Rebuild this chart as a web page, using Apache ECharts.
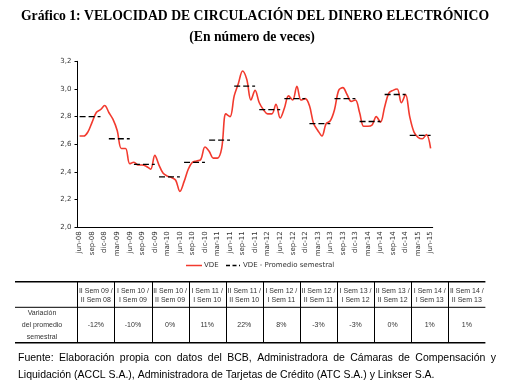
<!DOCTYPE html>
<html>
<head>
<meta charset="utf-8">
<script src="https://cdn.jsdelivr.net/npm/echarts@6/dist/echarts.min.js"></script>
<style>
html,body{margin:0;padding:0;background:#fff;}
#chart{width:508px;height:392px;}
</style>
</head>
<body>
<div id="chart"></div>
<script>
// ---- Data ----
const monthNames = ['ene','feb','mar','abr','may','jun','jul','ago','sep','oct','nov','dic'];
const startYear = 2008, startMonth = 5, nMonths = 85; // jun-08 .. jun-15
const vde = [
  2.66,2.66,2.69,2.76,2.83,2.85,2.88,2.83,2.78,2.70,
  2.57,2.57,2.46,2.47,2.45,2.45,2.44,2.42,2.52,2.45,
  2.39,2.37,2.36,2.34,2.26,2.33,2.42,2.47,2.48,2.49,
  2.58,2.55,2.50,2.50,2.57,2.82,2.80,2.95,3.04,3.13,
  3.07,2.92,2.99,2.90,2.85,2.82,2.82,2.89,2.79,2.86,
  2.95,2.92,3.02,2.92,2.93,2.88,2.75,2.70,2.66,2.75,
  2.77,2.85,2.99,3.01,2.96,2.91,2.92,2.83,2.73,2.73,
  2.74,2.80,2.76,2.87,2.97,2.99,3.00,2.90,2.96,2.80,
  2.69,2.65,2.64,2.67,2.57
];
const semAvg = [2.80,2.64,2.455,2.365,2.47,2.63,3.02,2.85,2.93,2.75,2.93,2.765,2.96,2.665];
const semStart = [0,7,13,19,25,31,37,43,49,55,61,67,73,79];
const semLen = 6;
const yTicks = [2.0,2.2,2.4,2.6,2.8,3.0,3.2];
const tableHead1 = ['II Sem 09 /','I Sem 10 /','II Sem 10 /','I Sem 11 /','II Sem 11 /','I Sem 12 /','II Sem 12 /','I Sem 13 /','II Sem 13 /','I Sem 14 /','II Sem 14 /'];
const tableHead2 = ['II Sem 08','I Sem 09','II Sem 09','I Sem 10','II Sem 10','I Sem 11','II Sem 11','I Sem 12','II Sem 12','I Sem 13','II Sem 13'];
const variation = ['-12%','-10%','0%','11%','22%','8%','-3%','-3%','0%','1%','1%'];
const rowLabel = ['Variación','del promedio','semestral'];
const legendNames = ['VDE', 'VDE - Promedio semestral'];
const titleText = 'Gráfico 1: VELOCIDAD DE CIRCULACIÓN DEL DINERO ELECTRÓNICO';
const subTitleText = '(En número de veces)';
const source1 = 'Fuente: Elaboración propia con datos del BCB, Administradora de Cámaras de Compensación y';
const source2 = 'Liquidación (ACCL S.A.), Administradora de Tarjetas de Crédito (ATC S.A.) y Linkser S.A.';

// ---- Build ----
const RED = '#f23a2e';
const categories = [];
for (let i = 0; i < nMonths; i++) {
  const m = (startMonth + i) % 12;
  const y = startYear + Math.floor((startMonth + i) / 12);
  categories.push(monthNames[m] + '-' + String(y % 100).padStart(2, '0'));
}
const series = [{
  name: legendNames[0], type: 'line', data: vde, smooth: 0.35, symbol: 'none',
  lineStyle: {color: RED, width: 1.6}, itemStyle: {color: RED}, z: 3
}];
semAvg.forEach((v, k) => {
  const d = new Array(nMonths).fill(null);
  for (let j = 0; j < semLen; j++) d[semStart[k] + j] = v;
  series.push({
    name: legendNames[1], type: 'line', data: d, symbol: 'none',
    lineStyle: {color: '#000', width: 1.3, type: [6, 3]}, itemStyle: {color: '#000'}, z: 4
  });
});

const g = [];
// legend (drawn)
const legFont = '7px "DejaVu Sans", sans-serif';
g.push({type:'line', shape:{x1:186,y1:265.5,x2:202,y2:265.5}, style:{stroke:RED,lineWidth:1.5}});
g.push({type:'text', style:{text:legendNames[0], x:204, y:265.5, font:legFont, fill:'#333', textAlign:'left', textVerticalAlign:'middle'}});
g.push({type:'line', shape:{x1:226,y1:265.5,x2:240,y2:265.5}, style:{stroke:'#000',lineWidth:1.3,lineDash:[4,2.5]}});
g.push({type:'text', style:{text:legendNames[1], x:243, y:265.5, font:legFont, fill:'#333', textAlign:'left', textVerticalAlign:'middle'}});

// table graphics
const tx0 = 15, tx1 = 77.3, colW = 37.1, txEnd = tx1 + colW * 11;
const ty0 = 281.7, ty1 = 307.3, ty2 = 342.7;
const tFont = '7px "Liberation Sans", Arial, sans-serif';
g.push({type:'line', shape:{x1:tx0,y1:ty0,x2:txEnd,y2:ty0}, style:{stroke:'#000',lineWidth:1.5}});
g.push({type:'line', shape:{x1:tx0,y1:ty1,x2:txEnd,y2:ty1}, style:{stroke:'#000',lineWidth:1}});
g.push({type:'line', shape:{x1:tx0,y1:ty2,x2:txEnd,y2:ty2}, style:{stroke:'#000',lineWidth:1.5}});
for (let k = 0; k < 11; k++) {
  const x = Math.round(tx1 + k * colW) + 0.5;
  g.push({type:'line', shape:{x1:x,y1:ty0,x2:x,y2:ty2}, style:{stroke:'#000',lineWidth:1}});
  const cx = tx1 + (k + 0.5) * colW;
  g.push({type:'text', style:{text:tableHead1[k], x:cx, y:290.7, font:tFont, fill:'#333', textAlign:'center', textVerticalAlign:'middle'}});
  g.push({type:'text', style:{text:tableHead2[k], x:cx, y:300.3, font:tFont, fill:'#333', textAlign:'center', textVerticalAlign:'middle'}});
  g.push({type:'text', style:{text:variation[k], x:cx, y:325.5, font:tFont, fill:'#333', textAlign:'center', textVerticalAlign:'middle'}});
}
rowLabel.forEach((t, i) => {
  g.push({type:'text', style:{text:t, x:42, y:313 + i * 11.8, font:tFont, fill:'#333', textAlign:'center', textVerticalAlign:'middle'}});
});
// titles
const tiFont = 'bold 13.7px "Liberation Serif", "Times New Roman", serif';
g.push({type:'text', style:{text:titleText, x:255, y:16.5, font:tiFont, fill:'#000', textAlign:'center', textVerticalAlign:'middle'}});
g.push({type:'text', style:{text:subTitleText, x:252, y:37, font:tiFont, fill:'#000', textAlign:'center', textVerticalAlign:'middle'}});
// source (line 1 justified)
const srcFont = '10.5px "Liberation Sans", Arial, sans-serif';
const ctx = document.createElement('canvas').getContext('2d');
ctx.font = srcFont;
const words = source1.split(' ');
const widths = words.map(w => ctx.measureText(w).width);
const totalW = widths.reduce((a, b) => a + b, 0);
const lineX0 = 18, lineX1 = 496;
const gap = (lineX1 - lineX0 - totalW) / (words.length - 1);
let cx = lineX0;
words.forEach((w, i) => {
  g.push({type:'text', style:{text:w, x:cx, y:358, font:srcFont, fill:'#000', textAlign:'left', textVerticalAlign:'middle'}});
  cx += widths[i] + gap;
});
g.push({type:'text', style:{text:source2, x:lineX0, y:375, font:srcFont, fill:'#000', textAlign:'left', textVerticalAlign:'middle'}});

const chart = echarts.init(document.getElementById('chart'), null, {renderer: 'canvas'});
chart.setOption({
  animation: false,
  backgroundColor: '#fff',
  grid: {left: 77.5, right: 75.3, top: 61.3, bottom: 164.7, containLabel: false},
  xAxis: {
    type: 'category', data: categories, boundaryGap: true,
    axisLine: {lineStyle: {color: '#000', width: 1}},
    axisTick: {interval: 2, alignWithLabel: true, length: 3, lineStyle: {color: '#000'}},
    axisLabel: {interval: 2, rotate: 90, fontSize: 7, fontFamily: 'DejaVu Sans', color: '#333', margin: 4},
    splitLine: {show: false}
  },
  yAxis: {
    type: 'value', min: yTicks[0], max: yTicks[yTicks.length - 1], interval: 0.2,
    axisLine: {show: true, lineStyle: {color: '#000', width: 1}},
    axisTick: {show: true, length: 3, lineStyle: {color: '#000'}},
    axisLabel: {fontSize: 7, fontFamily: 'DejaVu Sans', color: '#333', margin: 6,
      formatter: v => v.toFixed(1).replace('.', ',')},
    splitLine: {show: false}
  },
  series: series,
  graphic: g
});
</script>
</body>
</html>
